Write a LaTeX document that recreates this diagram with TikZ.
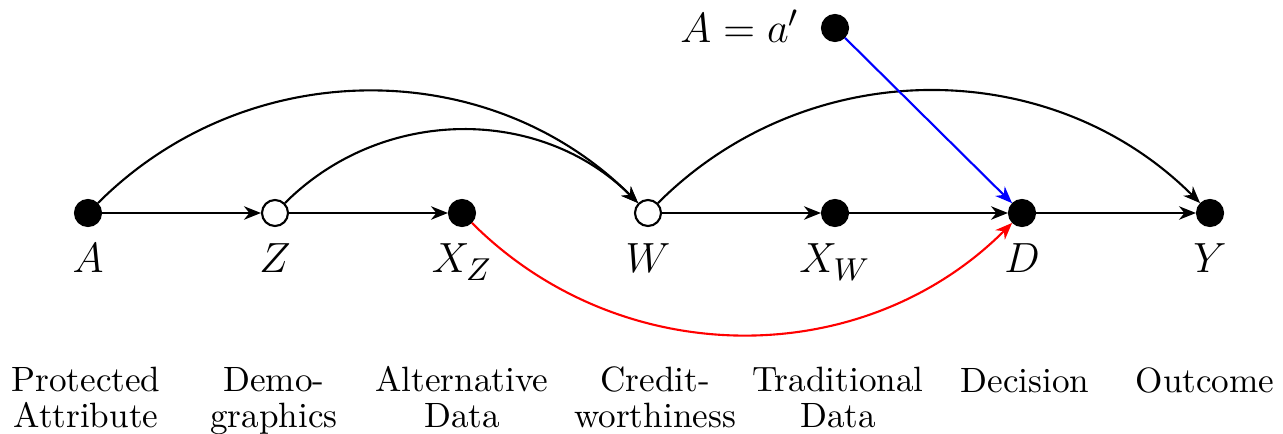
\documentclass[tikz,border=0pt]{standalone}
\usetikzlibrary{arrows.meta}
\begin{document}
\begin{tikzpicture}[x=0.01cm,y=-0.01cm,
  vtx/.style={circle,draw,line width=0.6pt,minimum size=0.26cm,inner sep=0pt},
  obs/.style={vtx,fill=black},
  lat/.style={vtx,fill=white},
  arr/.style={line width=0.6pt,-{Stealth[length=4.8pt,width=3.8pt,inset=1.5pt]}},
  mlab/.style={anchor=base,inner sep=0pt,font=\fontsize{12.6}{15}\selectfont},
  tlab/.style={anchor=base,inner sep=0pt,align=center,font=\fontsize{10}{10}\selectfont}]
\useasboundingbox (0,0) rectangle (1283,434);
% vertices
\node[obs] (A)  at (88,213) {};
\node[lat] (Z)  at (275,213) {};
\node[obs] (XZ) at (462,213) {};
\node[lat] (W)  at (648,213) {};
\node[obs] (XW) at (835,213) {};
\node[obs] (D)  at (1022,213) {};
\node[obs] (Y)  at (1210,213) {};
\node[obs] (Ap) at (835,28) {};
\node[anchor=base east,inner sep=0pt,font=\fontsize{12.6}{15}\selectfont] (Aplab) at (800,43) {$A = a'$};
% math labels
\node[mlab] (lA)  at (88,273) {$A$};
\node[mlab] (lZ)  at (275,273) {$Z$};
\node[mlab] (lXZ) at (462,273) {$X_Z$};
\node[mlab] (lW)  at (648,273) {$W$};
\node[mlab] (lXW) at (835,273) {$X_W$};
\node[mlab] (lD)  at (1022,273) {$D$};
\node[mlab] (lY)  at (1210,273) {$Y$};
% text labels (base = last line)
\node[tlab] (tA)  at (86,427) {Protected\\Attribute};
\node[tlab] (tZ)  at (274,427) {Demo-\\graphics};
\node[tlab] (tXZ) at (462,427) {Alternative\\Data};
\node[tlab] (tW)  at (655,427) {Credit-\\worthiness};
\node[tlab] (tXW) at (838,427) {Traditional\\Data};
\node[tlab] (tD)  at (1025,392) {Decision};
\node[tlab] (tY)  at (1205,392) {Outcome};
% edges
\draw[arr] (A) -- (Z);
\draw[arr] (Z) -- (XZ);
\draw[arr] (W) -- (XW);
\draw[arr] (XW) -- (D);
\draw[arr] (D) -- (Y);
\draw[arr] (A) to[out=45,in=135] (W);
\draw[arr] (Z) to[out=45,in=135] (W);
\draw[arr] (W) to[out=45,in=135] (Y);
\draw[arr,red] (XZ) to[out=-45,in=-135] (D);
\draw[arr,blue] (Ap) -- (D);
\end{tikzpicture}
\end{document}
